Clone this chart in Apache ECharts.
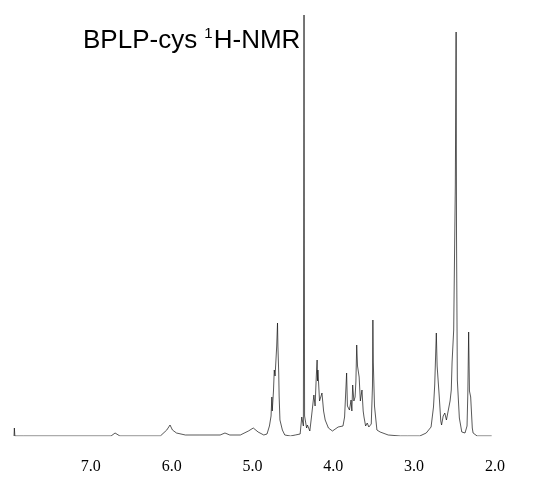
<!DOCTYPE html>
<html>
<head>
<meta charset="utf-8">
<script src="https://cdn.jsdelivr.net/npm/echarts@6/dist/echarts.min.js"></script>
<style>
html,body{margin:0;padding:0;background:#fff;}
#chart{width:535px;height:479px;}
</style>
</head>
<body>
<div id="chart"></div>
<script>
// Chemical shift (ppm)
var shiftPpm = [
  7.95, 7.946, 7.94, 7.83, 6.75, 6.70, 6.64, 6.14, 6.06, 6.02, 5.99, 5.94, 5.83, 5.65, 5.40, 5.34, 5.28, 5.15, 5.05, 4.99,
  4.93, 4.86, 4.82, 4.79, 4.77, 4.76, 4.755, 4.74, 4.73, 4.72, 4.70, 4.69, 4.685, 4.675, 4.67, 4.66, 4.63, 4.60, 4.53, 4.47,
  4.41, 4.39, 4.37, 4.362, 4.355, 4.33, 4.32, 4.29, 4.27, 4.25, 4.24, 4.225, 4.21, 4.20, 4.195, 4.19, 4.17, 4.14, 4.12, 4.10,
  4.06, 4.01, 3.94, 3.88, 3.86, 3.835, 3.825, 3.80, 3.78, 3.77, 3.76, 3.745, 3.73, 3.72, 3.71, 3.70, 3.68, 3.665, 3.645, 3.63,
  3.62, 3.60, 3.58, 3.56, 3.53, 3.515, 3.51, 3.505, 3.49, 3.46, 3.42, 3.32, 3.17, 3.08, 2.93, 2.85, 2.79, 2.76, 2.745, 2.725,
  2.715, 2.69, 2.67, 2.66, 2.64, 2.62, 2.60, 2.58, 2.555, 2.54, 2.53, 2.51, 2.49, 2.48, 2.475, 2.465, 2.44, 2.41, 2.37, 2.345,
  2.335, 2.325, 2.315, 2.30, 2.28, 2.27, 2.22, 2.04
];
// Signal intensity (arbitrary units)
var intensity = [
  0, 8, 0, 0, 0, 3, 0, 0, 6, 11, 6, 3, 1, 1, 1, 3, 1, 1, 5, 8,
  4, 1, 2, 10, 20, 39, 25, 45, 66, 60, 90, 113, 90, 63, 40, 16, 6, 1, 0, 1,
  2, 19, 10, 421, 20, 8, 11, 5, 19, 20, 41, 30, 60, 76, 55, 66, 35, 43, 25, 16,
  8, 5, 9, 10, 19, 63, 30, 26, 36, 25, 51, 35, 39, 55, 91, 70, 59, 35, 46, 25,
  19, 10, 13, 9, 12, 50, 116, 74, 30, 6, 4, 1, 0, 0, 0, 3, 9, 29, 51, 103,
  70, 41, 15, 11, 20, 23, 16, 18, 35, 46, 74, 106, 250, 404, 200, 56, 18, 4, 3, 10,
  43, 104, 45, 39, 8, 3, 0, 0
];
// Axis tick labels
var tickValues = [2, 3, 4, 5, 6, 7];
var titleMain = 'BPLP-cys ';
var titleSup = '1';
var titleTail = 'H-NMR';

var seriesData = shiftPpm.map(function (p, i) { return [p, intensity[i]]; });

var chart = echarts.init(document.getElementById('chart'), null, {renderer: 'canvas'});
chart.setOption({
  animation: false,
  backgroundColor: '#ffffff',
  title: {
    text: '{a|' + titleMain + '}{s|' + titleSup + '}{a|' + titleTail + '}',
    left: 78,
    top: 21,
    textStyle: {
      fontWeight: 'normal',
      rich: {
        a: {fontFamily: 'Liberation Sans, Arial, sans-serif', fontSize: 26, fontWeight: 'normal', color: '#000', lineHeight: 29},
        s: {fontFamily: 'Liberation Sans, Arial, sans-serif', fontSize: 15, fontWeight: 'normal', color: '#000', verticalAlign: 'top', lineHeight: 29, padding: [0, 1, 0, 0]}
      }
    }
  },
  grid: {left: 10, right: 32, top: 0, bottom: 43},
  xAxis: {
    type: 'value',
    inverse: true,
    min: 1.9,
    max: 8.0,
    axisLine: {show: false},
    axisTick: {show: false},
    splitLine: {show: false},
    axisLabel: {
      customValues: tickValues,
      formatter: function (v) { return v.toFixed(1); },
      fontFamily: 'Liberation Serif, Times New Roman, serif',
      fontSize: 16,
      color: '#000',
      margin: 23
    }
  },
  yAxis: {
    type: 'value',
    min: 0,
    max: 436,
    show: false
  },
  series: [{
    type: 'line',
    data: seriesData,
    showSymbol: false,
    symbol: 'none',
    lineStyle: {color: '#111', width: 0.7},
    silent: true
  }]
});
</script>
</body>
</html>
